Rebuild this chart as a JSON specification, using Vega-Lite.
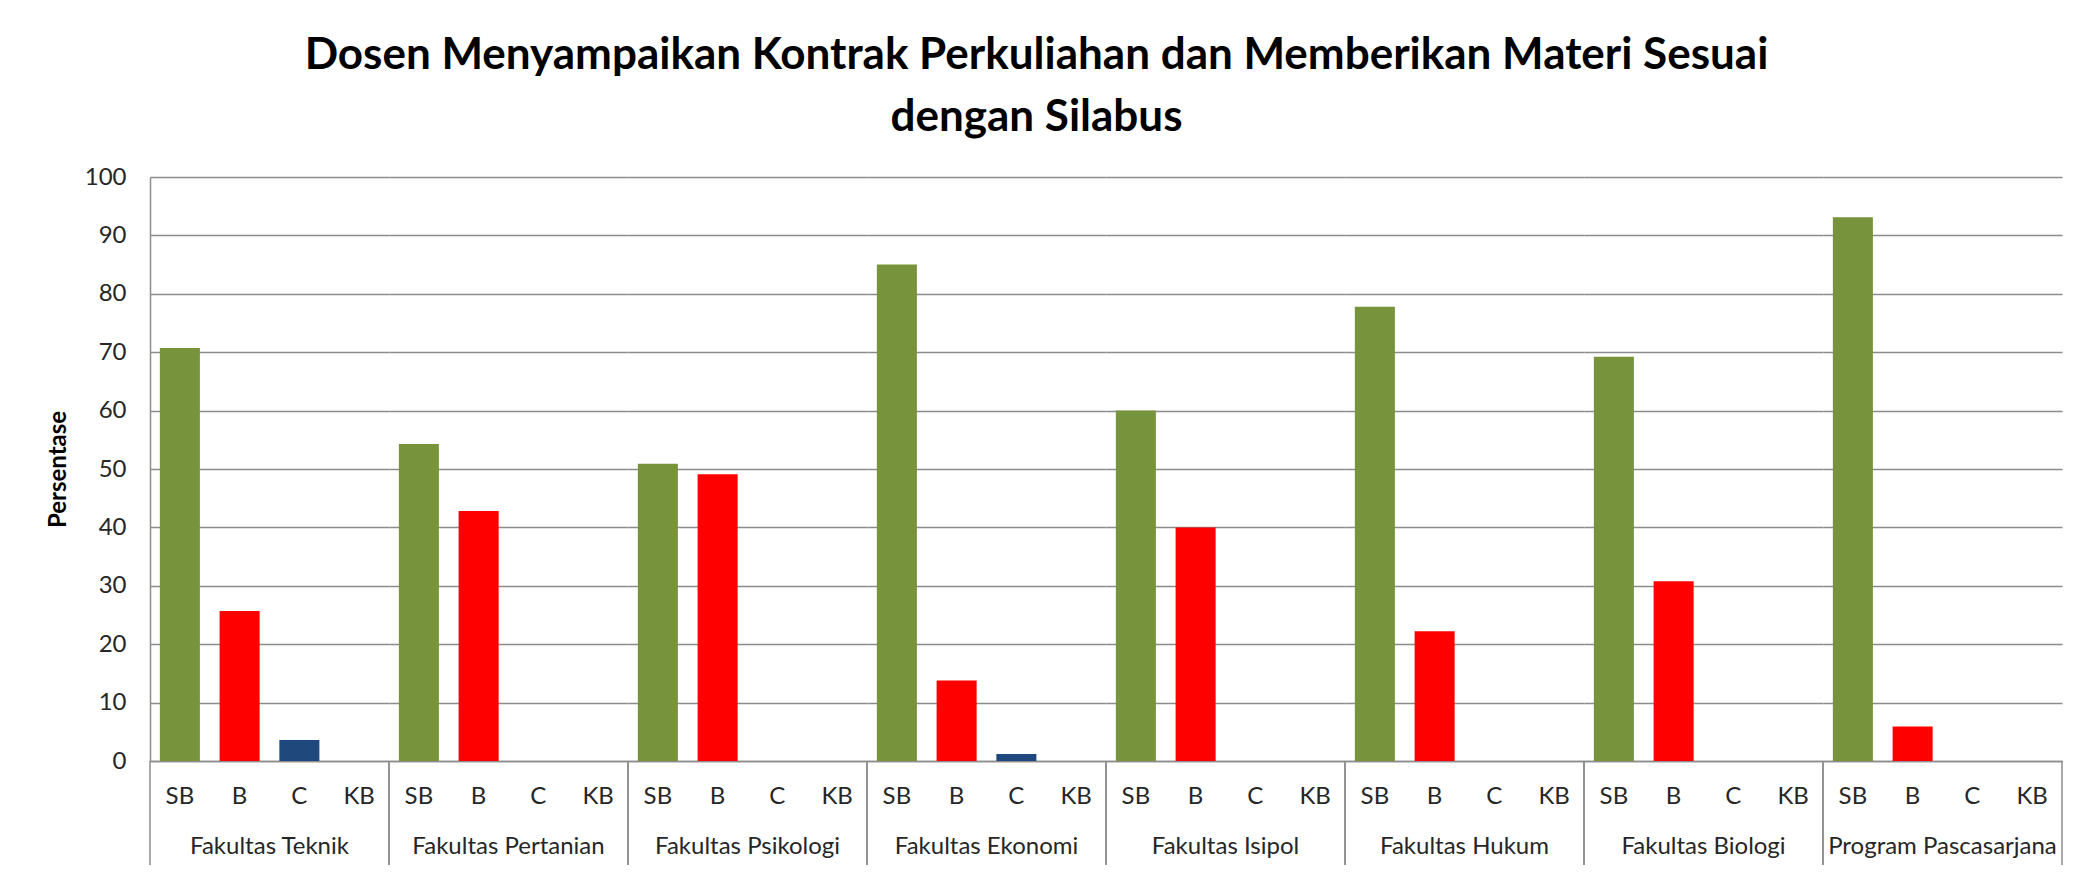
{
  "$schema": "https://vega.github.io/schema/vega-lite/v6.json",
  "background": "white",
  "bounds": "flush",
  "padding": {"left": 46, "top": 34, "right": 30, "bottom": 0},
  "title": {
    "text": ["Dosen Menyampaikan Kontrak Perkuliahan dan Memberikan Materi Sesuai", "dengan Silabus"],
    "font": "Lato",
    "fontSize": 44,
    "fontWeight": "bold",
    "lineHeight": 62,
    "color": "black",
    "anchor": "middle",
    "dx": -18,
    "offset": 25
  },
  "data": {
    "values": [
      {"group": "Fakultas Teknik", "cat": "SB", "value": 70.7},
      {"group": "Fakultas Teknik", "cat": "B", "value": 25.7},
      {"group": "Fakultas Teknik", "cat": "C", "value": 3.6},
      {"group": "Fakultas Teknik", "cat": "KB", "value": 0},
      {"group": "Fakultas Pertanian", "cat": "SB", "value": 54.3},
      {"group": "Fakultas Pertanian", "cat": "B", "value": 42.8},
      {"group": "Fakultas Pertanian", "cat": "C", "value": 0},
      {"group": "Fakultas Pertanian", "cat": "KB", "value": 0},
      {"group": "Fakultas Psikologi", "cat": "SB", "value": 50.9},
      {"group": "Fakultas Psikologi", "cat": "B", "value": 49.1},
      {"group": "Fakultas Psikologi", "cat": "C", "value": 0},
      {"group": "Fakultas Psikologi", "cat": "KB", "value": 0},
      {"group": "Fakultas Ekonomi", "cat": "SB", "value": 85.0},
      {"group": "Fakultas Ekonomi", "cat": "B", "value": 13.8},
      {"group": "Fakultas Ekonomi", "cat": "C", "value": 1.2},
      {"group": "Fakultas Ekonomi", "cat": "KB", "value": 0},
      {"group": "Fakultas Isipol", "cat": "SB", "value": 60.0},
      {"group": "Fakultas Isipol", "cat": "B", "value": 40.0},
      {"group": "Fakultas Isipol", "cat": "C", "value": 0},
      {"group": "Fakultas Isipol", "cat": "KB", "value": 0},
      {"group": "Fakultas Hukum", "cat": "SB", "value": 77.8},
      {"group": "Fakultas Hukum", "cat": "B", "value": 22.2},
      {"group": "Fakultas Hukum", "cat": "C", "value": 0},
      {"group": "Fakultas Hukum", "cat": "KB", "value": 0},
      {"group": "Fakultas Biologi", "cat": "SB", "value": 69.2},
      {"group": "Fakultas Biologi", "cat": "B", "value": 30.8},
      {"group": "Fakultas Biologi", "cat": "C", "value": 0},
      {"group": "Fakultas Biologi", "cat": "KB", "value": 0},
      {"group": "Program Pascasarjana", "cat": "SB", "value": 93.1},
      {"group": "Program Pascasarjana", "cat": "B", "value": 5.9},
      {"group": "Program Pascasarjana", "cat": "C", "value": 0},
      {"group": "Program Pascasarjana", "cat": "KB", "value": 0}
    ]
  },
  "facet": {
    "column": {
      "field": "group",
      "type": "nominal",
      "sort": ["Fakultas Teknik", "Fakultas Pertanian", "Fakultas Psikologi", "Fakultas Ekonomi", "Fakultas Isipol", "Fakultas Hukum", "Fakultas Biologi", "Program Pascasarjana"],
      "header": {
        "title": null,
        "labelOrient": "bottom",
        "labelFont": "Lato",
        "labelFontSize": 24,
        "labelColor": "#262626",
        "labelPadding": 27
      }
    }
  },
  "spacing": 0,
  "spec": {
    "width": 239,
    "height": 584,
    "layer": [
      {
        "mark": {"type": "bar"},
        "encoding": {
          "x": {
            "field": "cat",
            "type": "nominal",
            "sort": ["SB", "B", "C", "KB"],
            "scale": {"domain": ["SB", "B", "C", "KB"], "paddingInner": 0.33, "paddingOuter": 0.165},
            "title": null,
            "axis": {
              "labelAngle": 0,
              "ticks": false,
              "labelPadding": 23,
              "labelFont": "Lato",
              "labelFontSize": 24,
              "labelColor": "#262626",
              "domainColor": "#8c8c8c",
              "domainWidth": 1.5,
              "grid": false
            }
          },
          "y": {
            "field": "value",
            "type": "quantitative",
            "scale": {"domain": [0, 100], "nice": false},
            "title": "Persentase",
            "axis": {
              "values": [0, 10, 20, 30, 40, 50, 60, 70, 80, 90, 100],
              "ticks": false,
              "labelFont": "Lato",
              "labelFontSize": 24,
              "labelColor": "#262626",
              "labelPadding": 24,
              "titleFont": "Lato",
              "titleFontSize": 24,
              "titleFontWeight": "bold",
              "titleColor": "black",
              "titlePadding": 14,
              "domainColor": "#8c8c8c",
              "domainWidth": 1.5,
              "gridColor": "#8c8c8c",
              "gridWidth": 1.5
            }
          },
          "color": {
            "field": "cat",
            "type": "nominal",
            "scale": {"domain": ["SB", "B", "C", "KB"], "range": ["#77933C", "#FF0000", "#1F497D", "#8064A2"]},
            "legend": null
          }
        }
      },
      {
        "transform": [{"filter": "datum.cat === 'SB'"}],
        "mark": {"type": "rule", "color": "#8c8c8c", "strokeWidth": 1.5},
        "encoding": {
          "x": {"field": "cat", "type": "nominal", "bandPosition": -0.2463},
          "y": {"datum": 0},
          "y2": {"datum": -17.8}
        }
      },
      {
        "transform": [{"filter": "datum.cat === 'KB'"}],
        "mark": {"type": "rule", "color": "#8c8c8c", "strokeWidth": 1.5},
        "encoding": {
          "x": {"field": "cat", "type": "nominal", "bandPosition": 1.2463},
          "y": {"datum": 0},
          "y2": {"datum": -17.8}
        }
      }
    ]
  },
  "config": {
    "view": {"stroke": null}
  }
}
